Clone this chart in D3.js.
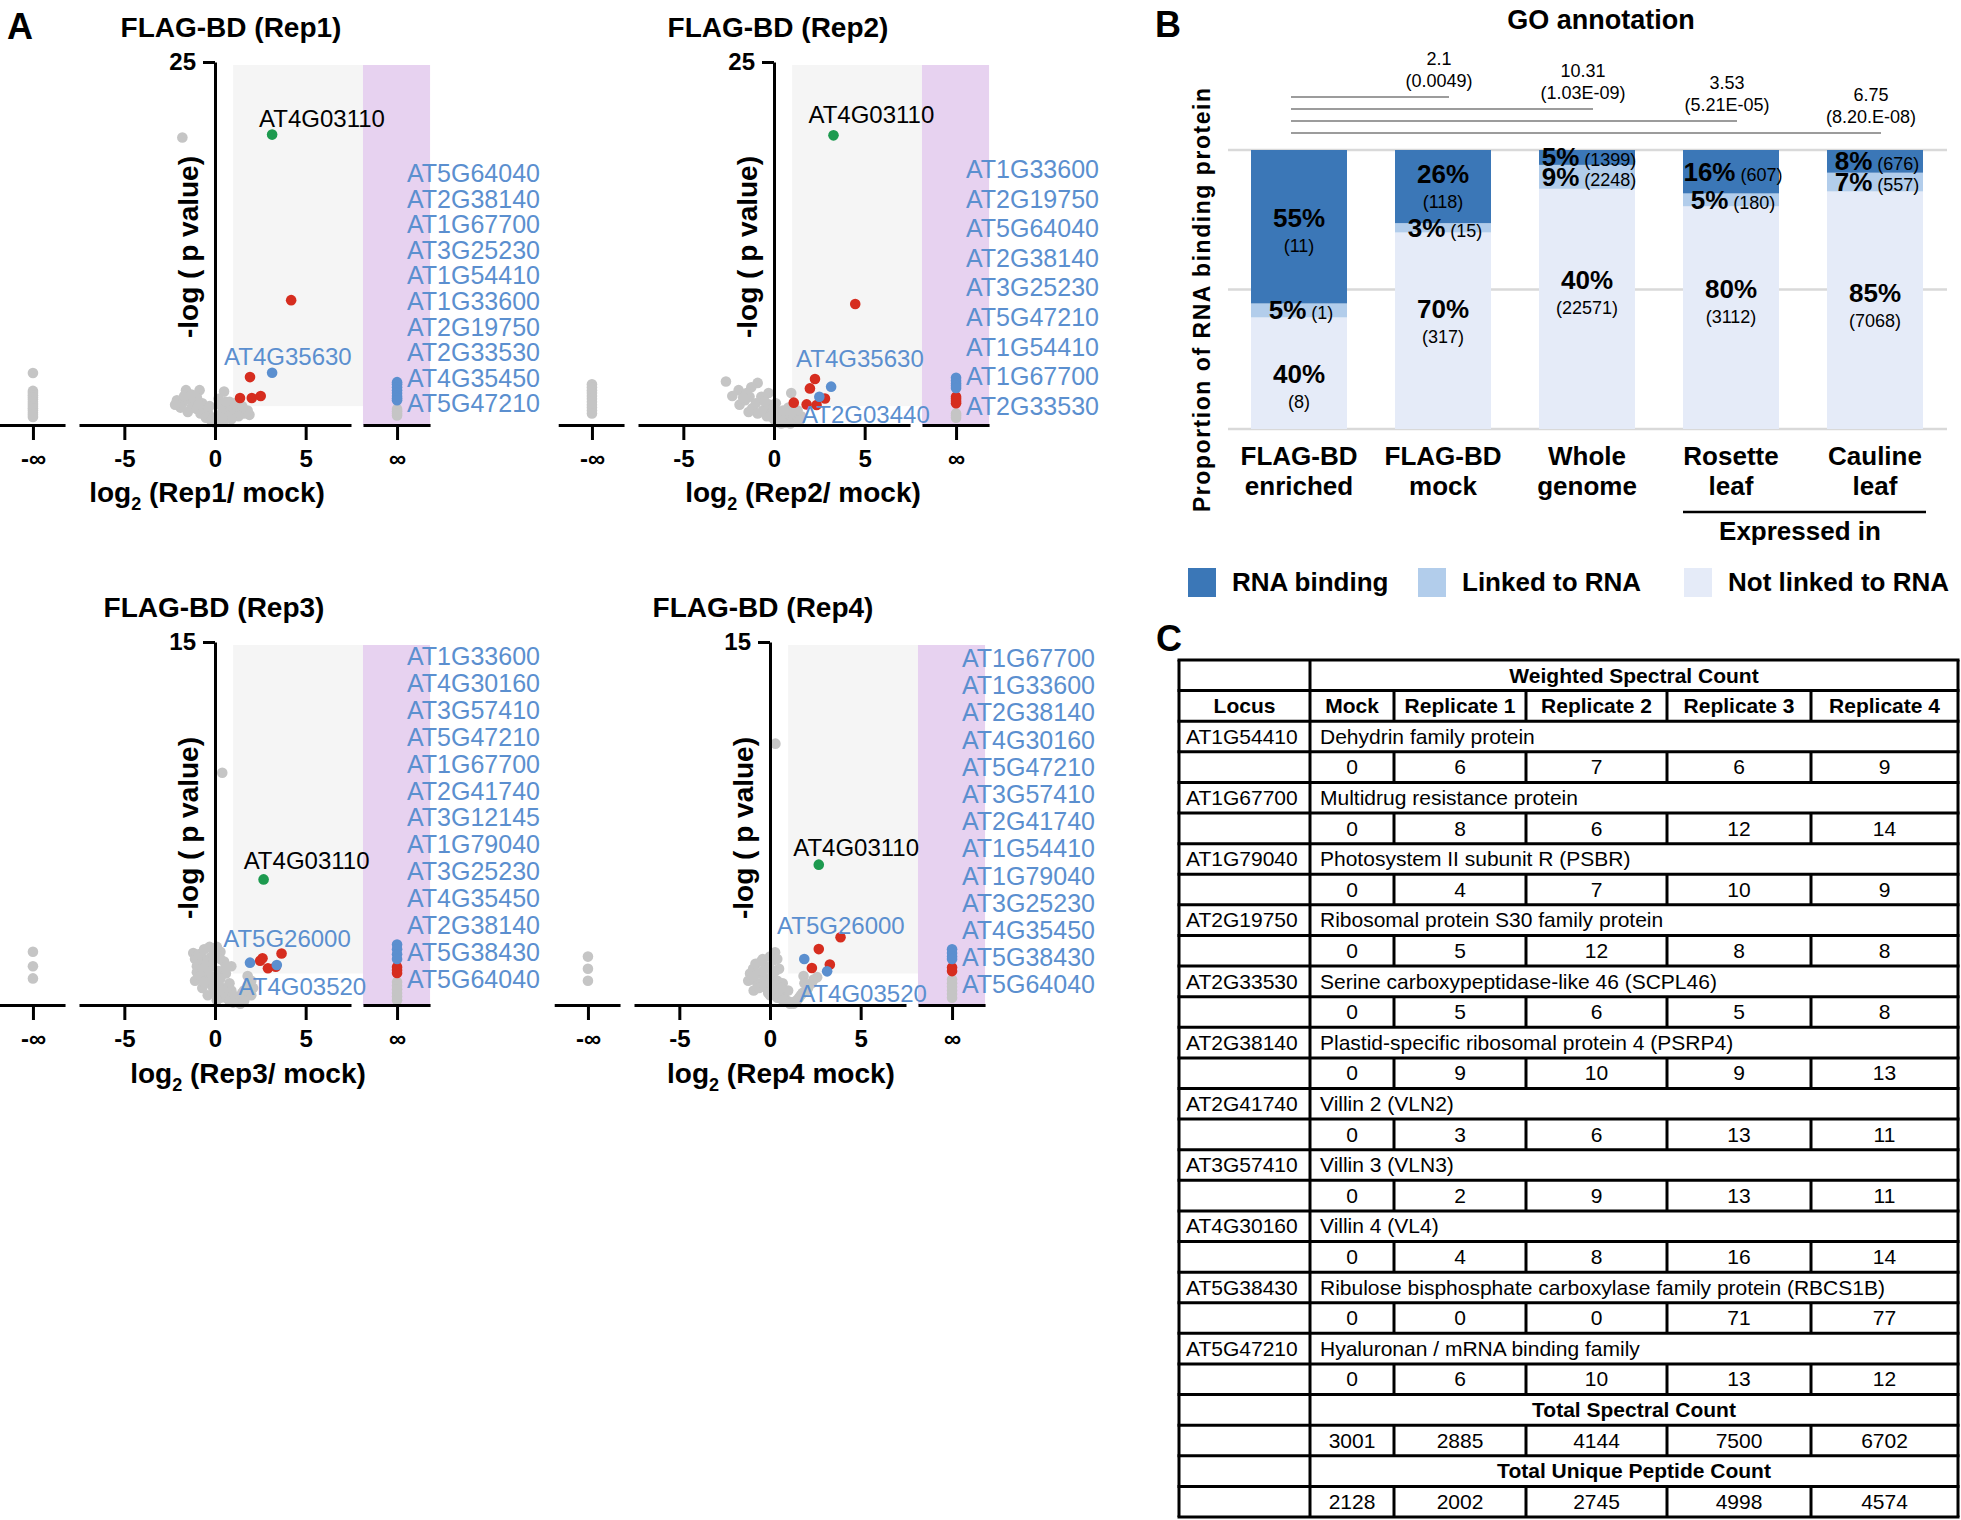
<!DOCTYPE html>
<html><head><meta charset="utf-8">
<script src="https://cdn.jsdelivr.net/npm/d3@7"></script>
<style>
body{margin:0;background:#fff}
text{font-family:"Liberation Sans",Arial,Helvetica,sans-serif}
</style>
</head><body>
<svg id="fig" width="1961" height="1520" xmlns="http://www.w3.org/2000/svg"></svg>
<script>
// ======================= DATA =======================
// Panel A – volcano plots. Points are [log2 ratio, -log p]; infinity columns are lists of -log p.
const rep1Gray = [[-1.8,19.8],[-1.6,2.4],[-0.85,2.4],[0.5,2.3],[-2.1,1.7],[-1.8,1.5],[-1.5,1.8],[-1.2,1.6],[-1.0,1.9],[-0.7,1.5],[-1.3,1.2],[-1.0,1.1],[-0.6,1.2],[-0.4,0.9],[-0.8,0.8],[-0.3,0.6],[-0.5,0.5],[-0.2,0.3],[0.0,0.15],[0.1,0.25],[0.2,0.4],[0.3,0.6],[0.4,0.9],[0.6,1.1],[0.8,0.9],[0.7,0.6],[1.0,1.2],[1.2,0.9],[1.4,1.1],[1.6,0.8],[1.8,1.0],[1.3,0.6],[0.9,0.4],[0.5,0.3],[-0.1,0.5],[-1.5,0.9],[-1.9,1.2],[0.3,1.4],[0.8,1.6],[0.2,1.8],[-0.3,1.3],[1.1,1.5],[-2.2,1.4],[-1.7,2.0],[-1.3,2.1],[0.6,1.6],[1.5,1.3],[1.9,0.7],[-0.9,1.4],[0.0,0.4],[0.4,0.5]];
const rep1Red = [[4.2,8.6],[1.93,3.3],[1.38,1.86],[2.03,1.86],[2.52,2.0]];
const rep1Blue = [[3.15,3.6]];
const rep1Green = [[3.15,20.0]];
const rep1NegInfGray = [3.58,2.35,2.2,2.05,1.9,1.75,1.6,1.45,1.3,1.15,1.0,0.85,0.7,0.55];
const rep1InfGray = [1.1,0.95,0.8,0.65];
const rep1InfRed = [];
const rep1InfBlue = [2.95,2.8,2.6,2.4,2.2,2.0,1.85,1.7];
const rep1Genes = ["AT5G64040","AT2G38140","AT1G67700","AT3G25230","AT1G54410","AT1G33600","AT2G19750","AT2G33530","AT4G35450","AT5G47210"];
const rep1Notes = [["AT4G03110",2.43,20.5,"black"],["AT4G35630",0.5,4.13,"blue"]];

const rep2Gray = [[-2.65,3.0],[-0.9,2.9],[-1.25,2.6],[-1.95,2.4],[-1.35,1.95],[-0.7,1.95],[-1.9,1.4],[-1.6,1.7],[-1.2,1.15],[-0.25,1.4],[-0.6,1.0],[-0.9,0.8],[-0.4,0.6],[-0.1,0.9],[0.0,0.4],[0.2,0.2],[0.4,0.1],[0.6,0.15],[0.8,0.3],[1.0,0.5],[1.2,0.7],[1.5,0.6],[0.3,0.6],[0.6,0.8],[0.95,2.2],[0.8,1.2],[-0.3,2.2],[-1.5,2.2],[0.1,1.5],[1.3,1.0],[-2.3,2.0],[-1.7,1.9],[-1.0,1.5],[-0.5,1.6],[0.0,1.1],[0.5,1.0],[1.0,0.9],[1.4,0.3],[0.9,0.1],[-0.2,0.6],[-1.4,0.9]];
const rep2Red = [[4.48,8.33],[2.26,3.17],[1.98,2.52],[2.81,1.83],[1.09,1.54],[1.8,1.42],[2.35,1.38]];
const rep2Blue = [[3.15,2.64],[2.5,1.95]];
const rep2Green = [[3.28,19.95]];
const rep2NegInfGray = [2.8,2.6,2.4,2.2,2.0,1.8,1.6,1.4,1.2,1.0,0.8];
const rep2InfGray = [0.8,0.65,0.5];
const rep2InfRed = [1.95,1.8,1.65,1.5];
const rep2InfBlue = [3.25,3.05,2.85,2.7,2.55];
const rep2Genes = ["AT1G33600","AT2G19750","AT5G64040","AT2G38140","AT3G25230","AT5G47210","AT1G54410","AT1G67700","AT2G33530"];
const rep2Notes = [["AT4G03110",1.9,20.8,"black"],["AT4G35630",1.22,4.0,"blue"],["AT2G03440",1.55,0.14,"blue"]];

const rep3Gray = [[0.4,9.6],[-1.2,2.15],[0.1,2.4],[0.3,2.2],[-0.2,2.0],[-0.6,1.9],[-0.9,1.7],[0.5,1.8],[-1.0,1.35],[-1.1,1.0],[-0.5,1.3],[-0.2,1.6],[0.2,1.4],[0.6,1.3],[-0.7,0.7],[-0.3,0.9],[0.1,1.0],[0.4,0.7],[0.0,0.5],[0.7,0.5],[0.9,0.3],[1.1,0.15],[1.3,0.1],[1.5,0.2],[1.7,0.35],[1.9,0.5],[0.8,0.9],[1.8,1.2],[-0.4,0.4],[0.3,0.3],[2.1,0.7],[0.9,1.6],
  [-1.1,1.9],[-0.9,2.1],[-0.6,2.3],[-0.3,2.4],[0.0,2.2],[-1.0,1.6],[-0.7,1.5],[-0.4,1.8],[-0.1,1.9],[0.3,1.9],[0.6,1.6],[-0.8,1.2],[-0.5,1.0],[-0.2,1.2],[0.3,1.1],[-0.6,0.95],[-0.1,0.7],[0.2,0.8],[0.5,0.6],[0.6,0.3],[0.9,0.6],[1.0,0.4],[1.2,0.3],[1.4,0.05],[1.6,0.15],[0.8,0.15],[1.0,0.1],[2.0,0.4],[1.9,0.9],[1.5,0.5],[0.1,0.2],[1.6,0.6],[1.8,0.8],[2.0,1.0]];
const rep3Red = [[3.67,2.13],[2.62,1.93],[2.49,1.83],[2.92,1.52],[3.35,1.58]];
const rep3Blue = [[1.93,1.75],[3.41,1.65]];
const rep3Green = [[2.68,5.19]];
const rep3NegInfGray = [2.2,1.6,1.1];
const rep3InfGray = [0.95,0.8,0.65,0.5,0.35,0.2];
const rep3InfRed = [1.57,1.45,1.32];
const rep3InfBlue = [2.5,2.3,2.1,1.9];
const rep3Genes = ["AT1G33600","AT4G30160","AT3G57410","AT5G47210","AT1G67700","AT2G41740","AT3G12145","AT1G79040","AT3G25230","AT4G35450","AT2G38140","AT5G38430","AT5G64040"];
const rep3Notes = [["AT4G03110",1.58,5.6,"black"],["AT5G26000",0.45,2.41,"blue"],["AT4G03520",1.3,0.41,"blue"]];

const rep4Gray = [[0.3,10.8],[0.28,2.18],[-0.4,1.9],[0.2,1.85],[-0.93,1.5],[-1.0,1.07],[-0.6,1.3],[-0.2,1.6],[0.5,1.5],[-0.7,0.9],[-0.3,1.1],[0.1,1.2],[0.4,1.0],[-0.2,0.7],[0.2,0.6],[0.6,0.5],[0.8,0.3],[1.0,0.15],[1.2,0.1],[1.4,0.15],[1.6,0.3],[1.85,1.2],[1.8,0.5],[2.1,0.7],[2.6,1.15],[0.7,0.9],[1.0,0.6],[-0.9,0.6],[0.0,0.4],[0.4,0.3],
  [-1.1,1.3],[-1.2,1.0],[-0.8,1.7],[-0.5,1.8],[0.0,2.0],[0.4,1.9],[-0.9,1.2],[-0.4,1.4],[0.0,1.5],[0.3,1.4],[-0.6,0.7],[-0.3,0.8],[0.0,0.9],[0.3,0.8],[0.6,0.7],[-0.1,0.5],[0.3,0.5],[0.5,0.3],[0.7,0.2],[0.9,0.15],[1.1,0.05],[1.3,0.05],[1.5,0.2],[1.7,0.4],[2.0,0.6],[2.3,0.9],[1.9,0.9],[2.4,1.05]];
const rep4Red = [[3.89,2.8],[2.69,2.31],[2.31,1.53],[3.3,1.67]];
const rep4Blue = [[1.89,1.9],[3.15,1.39]];
const rep4Green = [[2.69,5.8]];
const rep4NegInfGray = [2.0,1.5,1.0];
const rep4InfGray = [1.05,0.9,0.75,0.6,0.45,0.3];
const rep4InfRed = [1.55,1.4];
const rep4InfBlue = [2.3,2.15,2.0,1.9];
const rep4Genes = ["AT1G67700","AT1G33600","AT2G38140","AT4G30160","AT5G47210","AT3G57410","AT2G41740","AT1G54410","AT1G79040","AT3G25230","AT4G35450","AT5G38430","AT5G64040"];
const rep4Notes = [["AT4G03110",1.28,6.16,"black"],["AT5G26000",0.39,2.93,"blue"],["AT4G03520",1.61,0.12,"blue"]];

const volcanoTitles = ["FLAG-BD (Rep1)","FLAG-BD (Rep2)","FLAG-BD (Rep3)","FLAG-BD (Rep4)"];
const volcanoXTitles = [" (Rep1/ mock)"," (Rep2/ mock)"," (Rep3/ mock)"," (Rep4 mock)"];
const volcanoYMax = [25,25,15,15];
const mainXTicks = [-5,0,5];

// Panel B – GO annotation
const goCategories = [["FLAG-BD","enriched"],["FLAG-BD","mock"],["Whole","genome"],["Rosette","leaf"],["Cauline","leaf"]];
const rnaBindingCounts = [11,118,1399,607,676];
const linkedCounts = [1,15,2248,180,557];
const notLinkedCounts = [8,317,22571,3112,7068];
const rnaBindingPct = ["55%","26%","5%","16%","8%"];
const linkedPct = ["5%","3%","9%","5%","7%"];
const notLinkedPct = ["40%","70%","40%","80%","85%"];
const foldEnrichment = ["2.1","10.31","3.53","6.75"];
const enrichmentP = ["(0.0049)","(1.03E-09)","(5.21E-05)","(8.20.E-08)"];
const goLegend = ["RNA binding","Linked to RNA","Not linked to RNA"];

// Panel C – table
const tableColumns = ["Mock","Replicate 1","Replicate 2","Replicate 3","Replicate 4"];
const tableLoci = ["AT1G54410","AT1G67700","AT1G79040","AT2G19750","AT2G33530","AT2G38140","AT2G41740","AT3G57410","AT4G30160","AT5G38430","AT5G47210"];
const tableDescriptions = ["Dehydrin family protein","Multidrug resistance protein","Photosystem II subunit R (PSBR)","Ribosomal protein S30 family protein","Serine carboxypeptidase-like 46 (SCPL46)","Plastid-specific ribosomal protein 4 (PSRP4)","Villin 2 (VLN2)","Villin 3 (VLN3)","Villin 4 (VL4)","Ribulose bisphosphate carboxylase family protein (RBCS1B)","Hyaluronan / mRNA binding family"];
const tableMock = [0,0,0,0,0,0,0,0,0,0,0];
const tableRep1 = [6,8,4,5,5,9,3,2,4,0,6];
const tableRep2 = [7,6,7,12,6,10,6,9,8,0,10];
const tableRep3 = [6,12,10,8,5,9,13,13,16,71,13];
const tableRep4 = [9,14,9,8,8,13,11,11,14,77,12];
const totalSpectral = [3001,2885,4144,7500,6702];
const totalUnique = [2128,2002,2745,4998,4574];

// ======================= LAYOUT / STYLE =======================
const C = {gray:"#c5c5c5", red:"#d62d1f", blue:"#5b8fcf", green:"#1d9a4f", shade:"#f5f5f5", purple:"#e7d2f0",
  rna:"#3b77b7", linked:"#b2cdeb", notLinked:"#e5ebf8", grid:"#d9d9d9", bracket:"#9c9c9c"};
const svg = d3.select("#fig");
svg.append("rect").attr("width",1961).attr("height",1520).attr("fill","#fff");

const panelLayout = [
  {x0:215, yTop:62, yBase:425, titleDx:16, titleY:37, xTitleX:207, xTitleY:502, yTitleY:247, geneY:182, geneStep:25.6},
  {x0:774, yTop:62, yBase:425, titleDx:4, titleY:37, xTitleX:803, xTitleY:502, yTitleY:247, geneY:178, geneStep:29.6},
  {x0:215, yTop:642, yBase:1005, titleDx:-1, titleY:617, xTitleX:248, xTitleY:1083, yTitleY:828, geneY:665, geneStep:26.9},
  {x0:770, yTop:642, yBase:1005, titleDx:-7, titleY:617, xTitleX:781, xTitleY:1083, yTitleY:828, geneY:667, geneStep:27.2}
];
const panelData = [
  {gray:rep1Gray, red:rep1Red, blue:rep1Blue, green:rep1Green, nInf:rep1NegInfGray, iGray:rep1InfGray, iRed:rep1InfRed, iBlue:rep1InfBlue, genes:rep1Genes, notes:rep1Notes},
  {gray:rep2Gray, red:rep2Red, blue:rep2Blue, green:rep2Green, nInf:rep2NegInfGray, iGray:rep2InfGray, iRed:rep2InfRed, iBlue:rep2InfBlue, genes:rep2Genes, notes:rep2Notes},
  {gray:rep3Gray, red:rep3Red, blue:rep3Blue, green:rep3Green, nInf:rep3NegInfGray, iGray:rep3InfGray, iRed:rep3InfRed, iBlue:rep3InfBlue, genes:rep3Genes, notes:rep3Notes},
  {gray:rep4Gray, red:rep4Red, blue:rep4Blue, green:rep4Green, nInf:rep4NegInfGray, iGray:rep4InfGray, iRed:rep4InfRed, iBlue:rep4InfBlue, genes:rep4Genes, notes:rep4Notes}
];
// positions of the broken axis pieces, in the main x scale's units
const NEG_SEG = [-11.9,-8.27], NEG_INF = -10.04, POS_SEG = [8.16,11.86], POS_INF = 10.04;
const R = 5.3;

function styleAxis(ax, fs){
  ax.attr("font-family",null).attr("font-size",null);
  ax.selectAll(".domain").attr("stroke","#000").attr("stroke-width",3);
  ax.selectAll(".tick line").attr("stroke","#000").attr("stroke-width",3);
  ax.selectAll(".tick text").attr("fill","#000").attr("font-weight","bold").attr("font-size",fs);
}

panelLayout.forEach((L,i)=>{
  const D = panelData[i];
  const g = svg.append("g");
  const x = d3.scaleLinear().domain([-7.5,7.5]).range([L.x0-136, L.x0+136]);
  const y = d3.scaleLinear().domain([0,volcanoYMax[i]]).range([L.yBase, L.yTop]);
  const top = y(volcanoYMax[i]) + 3;
  // shaded regions
  g.append("rect").attr("x",x(1)).attr("y",top).attr("width",x(POS_SEG[0])-x(1)).attr("height",y(1.3)-top).attr("fill",C.shade);
  g.append("rect").attr("x",x(POS_SEG[0])).attr("y",top).attr("width",x(POS_SEG[1])-x(POS_SEG[0])).attr("height",y(0)-top).attr("fill",C.purple);

  // points
  const dot = (arr,col)=> g.append("g").selectAll("circle").data(arr).join("circle")
      .attr("cx",d=>x(d[0])).attr("cy",d=>y(d[1])).attr("r",R).attr("fill",col);
  const col = (arr,pos,colr)=> g.append("g").selectAll("circle").data(arr).join("circle")
      .attr("cx",x(pos)).attr("cy",d=>y(d)).attr("r",R).attr("fill",colr);
  dot(D.gray,C.gray);
  col(D.nInf,NEG_INF,C.gray);
  col(D.iGray,POS_INF,C.gray);
  col(D.iRed,POS_INF,C.red);
  col(D.iBlue,POS_INF,C.blue);
  dot(D.red,C.red);
  dot(D.blue,C.blue);
  dot(D.green,C.green);

  // axes
  const segs = [{d:NEG_SEG, t:[NEG_INF], f:()=>"-∞"},{d:[-7.5,7.5], t:mainXTicks, f:d=>String(d)},{d:POS_SEG, t:[POS_INF], f:()=>"∞"}];
  segs.forEach(s=>{
    const sc = x.copy().domain(s.d).range(s.d.map(v=>x(v)));
    const ax = g.append("g").attr("transform",`translate(0,${L.yBase})`)
      .call(d3.axisBottom(sc).tickValues(s.t).tickFormat(s.f).tickSize(15).tickSizeOuter(0).tickPadding(10));
    styleAxis(ax,24);
  });
  const ay = g.append("g").attr("transform",`translate(${x(0)},0)`)
    .call(d3.axisLeft(y).tickValues([volcanoYMax[i]]).tickFormat(d=>String(d)).tickSize(12).tickSizeOuter(0).tickPadding(7));
  styleAxis(ay,24);

  // titles
  g.append("text").attr("x",L.x0+L.titleDx).attr("y",L.titleY).attr("text-anchor","middle")
    .attr("font-weight","bold").attr("font-size",28).text(volcanoTitles[i]);
  const xt = g.append("text").attr("x",L.xTitleX).attr("y",L.xTitleY).attr("text-anchor","middle")
    .attr("font-weight","bold").attr("font-size",28);
  xt.append("tspan").text("log");
  xt.append("tspan").attr("font-size",18).attr("dy",8).text("2");
  xt.append("tspan").attr("dy",-8).text(volcanoXTitles[i]);
  g.append("text").attr("transform",`translate(${L.x0-17},${L.yTitleY}) rotate(-90)`).attr("text-anchor","middle")
    .attr("font-weight","bold").attr("font-size",28).text("-log ( p value)");

  // gene list on the right
  g.append("g").selectAll("text").data(D.genes).join("text")
    .attr("x",L.x0+192).attr("y",(d,k)=>L.geneY+k*L.geneStep).attr("font-size",25).attr("fill",C.blue).text(d=>d);
  // point annotations
  g.append("g").selectAll("text").data(D.notes).join("text")
    .attr("x",d=>x(d[1])).attr("y",d=>y(d[2])).attr("font-size",24)
    .attr("fill",d=>d[3]==="black"?"#000":C.blue).text(d=>d[0]);
});

// panel letters
[["A",7,39],["B",1155,37],["C",1156,651]].forEach(([t,px,py])=>{
  svg.append("text").attr("x",px).attr("y",py).attr("font-weight","bold").attr("font-size",36).text(t);
});

// ======================= PANEL B =======================
(function(){
  const g = svg.append("g");
  const xb = d3.scaleBand().domain(d3.range(goCategories.length)).range([1227,1947]).paddingInner(1/3).paddingOuter(1/6);
  const yb = d3.scaleLinear().domain([0,1]).range([429,150]);
  g.append("text").attr("x",1601).attr("y",29).attr("text-anchor","middle").attr("font-weight","bold").attr("font-size",27).text("GO annotation");
  // gridlines
  g.append("g").selectAll("line").data([0,0.5,1]).join("line")
    .attr("x1",1228).attr("x2",1947).attr("y1",d=>yb(d)).attr("y2",d=>yb(d)).attr("stroke",C.grid).attr("stroke-width",2.5);
  const rows = goCategories.map((c,i)=>{
    const tot = rnaBindingCounts[i]+linkedCounts[i]+notLinkedCounts[i];
    return {i, notLinked:notLinkedCounts[i]/tot, linked:linkedCounts[i]/tot, rna:rnaBindingCounts[i]/tot};
  });
  const keys = ["notLinked","linked","rna"];
  const colors = {notLinked:C.notLinked, linked:C.linked, rna:C.rna};
  const stack = d3.stack().keys(keys)(rows);
  stack.forEach(layer=>{
    g.append("g").selectAll("rect").data(layer).join("rect")
      .attr("x",(d,i)=>xb(i)).attr("width",xb.bandwidth())
      .attr("y",d=>yb(d[1])).attr("height",d=>yb(d[0])-yb(d[1])).attr("fill",colors[layer.key]);
  });
  // labels
  const pcts = {rna:rnaBindingPct, linked:linkedPct, notLinked:notLinkedPct};
  const counts = {rna:rnaBindingCounts, linked:linkedCounts, notLinked:notLinkedCounts};
  const bigDy = {rna:[0,-4,null,null,null], linked:[null,null,null,null,null], notLinked:[10,-13,-20,-20,-8]};
  stack.forEach(layer=>{
    layer.forEach((d,i)=>{
      const mid = (yb(d[0])+yb(d[1]))/2, cx = xb(i)+xb.bandwidth()/2;
      const k = layer.key, dy = bigDy[k][i];
      if(dy!==null){
        g.append("text").attr("x",cx).attr("y",mid+dy).attr("text-anchor","middle").attr("font-weight","bold").attr("font-size",26).text(pcts[k][i]);
        g.append("text").attr("x",cx).attr("y",mid+dy+25).attr("text-anchor","middle").attr("font-size",18).text("("+counts[k][i]+")");
      } else {
        const t = g.append("text").attr("x",cx+2).attr("y",mid+9).attr("text-anchor","middle");
        t.append("tspan").attr("font-weight","bold").attr("font-size",26).text(pcts[k][i]);
        t.append("tspan").attr("font-size",18).text(" ("+counts[k][i]+")");
      }
    });
  });
  // significance brackets
  const lineY = [97,109,121,133];
  foldEnrichment.forEach((v,j)=>{
    const cx = xb(j+1)+xb.bandwidth()/2;
    g.append("line").attr("x1",xb(0)+40).attr("x2",cx+6).attr("y1",lineY[j]).attr("y2",lineY[j]).attr("stroke",C.bracket).attr("stroke-width",2);
    g.append("text").attr("x",cx-4).attr("y",lineY[j]-32).attr("text-anchor","middle").attr("font-size",18).text(v);
    g.append("text").attr("x",cx-4).attr("y",lineY[j]-10).attr("text-anchor","middle").attr("font-size",18).text(enrichmentP[j]);
  });
  // category labels
  goCategories.forEach((c,i)=>{
    const cx = xb(i)+xb.bandwidth()/2;
    g.append("text").attr("x",cx).attr("y",465).attr("text-anchor","middle").attr("font-weight","bold").attr("font-size",26).text(c[0]);
    g.append("text").attr("x",cx).attr("y",495).attr("text-anchor","middle").attr("font-weight","bold").attr("font-size",26).text(c[1]);
  });
  g.append("line").attr("x1",xb(3)).attr("x2",xb(4)+xb.bandwidth()+3).attr("y1",512).attr("y2",512).attr("stroke","#000").attr("stroke-width",2.5);
  g.append("text").attr("x",1800).attr("y",540).attr("text-anchor","middle").attr("font-weight","bold").attr("font-size",26).text("Expressed in");
  // y title
  g.append("text").attr("transform","translate(1210,300) rotate(-90)").attr("text-anchor","middle")
    .attr("font-weight","bold").attr("font-size",23).attr("textLength",424).attr("lengthAdjust","spacing")
    .text("Proportion of RNA binding protein");
  // legend
  const legX = [1188,1418,1684];
  const legC = [C.rna,C.linked,C.notLinked];
  goLegend.forEach((t,i)=>{
    g.append("rect").attr("x",legX[i]).attr("y",568).attr("width",28).attr("height",29).attr("fill",legC[i]);
    g.append("text").attr("x",legX[i]+44).attr("y",591).attr("font-weight","bold").attr("font-size",26).text(t);
  });
})();

// ======================= PANEL C =======================
(function(){
  const g = svg.append("g");
  const colX = [1179,1310,1394,1526,1667,1811,1958];
  const rowsDef = [];
  rowsDef.push({type:"span", locus:"", text:"Weighted Spectral Count", bold:true, center:true});
  rowsDef.push({type:"cells", cells:["Locus",...tableColumns], bold:true});
  tableLoci.forEach((loc,i)=>{
    rowsDef.push({type:"span", locus:loc, text:tableDescriptions[i], bold:false, center:false});
    rowsDef.push({type:"cells", cells:["",tableMock[i],tableRep1[i],tableRep2[i],tableRep3[i],tableRep4[i]], bold:false});
  });
  rowsDef.push({type:"span", locus:"", text:"Total Spectral Count", bold:true, center:true});
  rowsDef.push({type:"cells", cells:["",...totalSpectral], bold:false});
  rowsDef.push({type:"span", locus:"", text:"Total Unique Peptide Count", bold:true, center:true});
  rowsDef.push({type:"cells", cells:["",...totalUnique], bold:false});
  const yT = d3.scaleLinear().domain([0,rowsDef.length]).range([660,1517]);
  const lw = 3;
  g.append("g").selectAll("line").data(d3.range(rowsDef.length+1)).join("line")
    .attr("x1",colX[0]-lw/2).attr("x2",colX[6]+lw/2).attr("y1",d=>yT(d)).attr("y2",d=>yT(d)).attr("stroke","#000").attr("stroke-width",lw);
  [colX[0],colX[1],colX[6]].forEach(cx=>{
    g.append("line").attr("x1",cx).attr("x2",cx).attr("y1",yT(0)).attr("y2",yT(rowsDef.length)).attr("stroke","#000").attr("stroke-width",lw);
  });
  rowsDef.forEach((r,k)=>{
    const y0 = yT(k), y1 = yT(k+1), base = y0+22.5;
    if(r.type==="cells"){
      [2,3,4,5].forEach(c=>g.append("line").attr("x1",colX[c]).attr("x2",colX[c]).attr("y1",y0).attr("y2",y1).attr("stroke","#000").attr("stroke-width",lw));
      r.cells.forEach((v,c)=>{
        if(v==="") return;
        g.append("text").attr("x",(colX[c]+colX[c+1])/2).attr("y",base).attr("text-anchor","middle")
          .attr("font-size",21).attr("font-weight",r.bold?"bold":"normal").text(v);
      });
    } else {
      if(r.locus) g.append("text").attr("x",colX[0]+7).attr("y",base).attr("font-size",21).text(r.locus);
      g.append("text").attr("x",r.center?(colX[1]+colX[6])/2:colX[1]+10).attr("y",base)
        .attr("text-anchor",r.center?"middle":"start").attr("font-size",21).attr("font-weight",r.bold?"bold":"normal").text(r.text);
    }
  });
})();
</script>
</body></html>
